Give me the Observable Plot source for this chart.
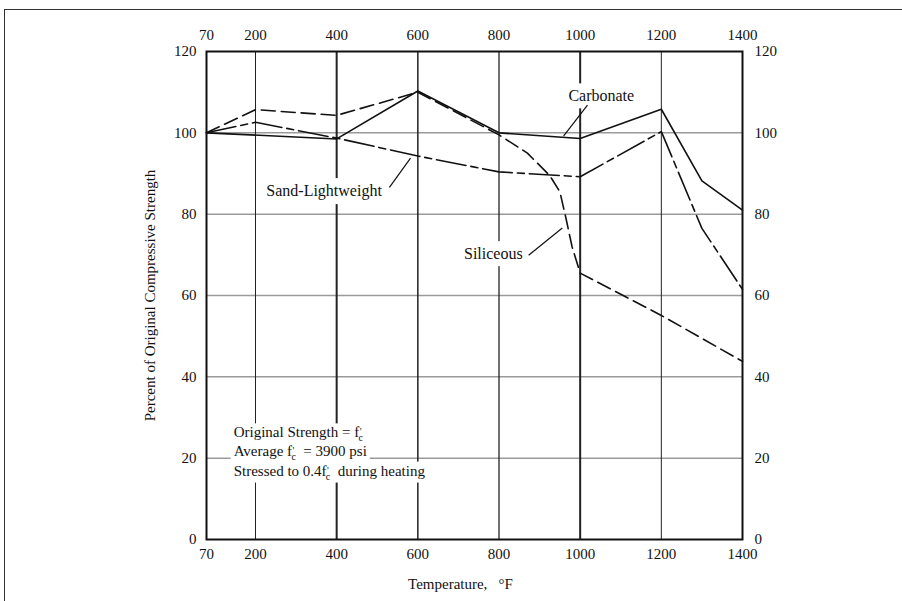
<!DOCTYPE html>
<html><head><meta charset="utf-8">
<script src="https://cdn.jsdelivr.net/npm/d3@7"></script>
<script src="https://cdn.jsdelivr.net/npm/@observablehq/plot@0.6"></script>
<style>
body{margin:0;background:#fff;}
#wrap{position:relative;width:902px;height:601px;overflow:hidden;background:#fff;}
#border{position:absolute;left:4px;top:9px;width:1000px;height:700px;border-left:1.5px solid #333;border-top:1.5px solid #333;}
#chart{position:absolute;left:0;top:0;}
</style></head><body>
<div id="wrap"><div id="border"></div><div id="chart"></div></div>
<script>
// ---- data ----
const tempTicks = [70, 200, 400, 600, 800, 1000, 1200, 1400];
const pctTicks = [0, 20, 40, 60, 80, 100, 120];
const gridTemps = [200, 400, 600, 800, 1000, 1200];
const gridPcts = [20, 40, 60, 80, 100];

const carbonateT = [70, 400, 600, 800, 1000, 1200, 1300, 1400];
const carbonateV = [100, 98.5, 110.3, 100, 98.6, 105.8, 88.2, 81];

const siliceousT = [70, 200, 400, 600, 800, 870, 925, 950, 965, 980, 1000, 1200, 1400];
const siliceousV = [100, 105.7, 104.3, 110, 99.5, 95, 89.5, 85.5, 79, 72, 65.5, 55.1, 43.8];

const sandT = [70, 200, 400, 600, 800, 1000, 1200, 1300, 1400];
const sandV = [100, 102.6, 98.7, 94.3, 90.4, 89.2, 100.3, 76.5, 61.5];

const labelNames = ["Carbonate", "Sand-Lightweight", "Siliceous"];
const labelT = [1052, 369, 786];
const labelV = [109.0, 85.7, 70.2];
const leaderT1 = [1018, 530, 873];
const leaderV1 = [106.8, 86.6, 69.9];
const leaderT2 = [959, 582, 956];
const leaderV2 = [99.2, 93.8, 76.6];

const noteLines = ["Original Strength = f'c", "Average f'c  = 3900 psi", "Stressed to 0.4f'c  during heating"];
const noteT = [142, 142, 142];
const noteV = [26.3, 21.6, 16.9];

const yTitle = "Percent of Original Compressive Strength";
const xTitle = "Temperature,\u00a0\u00a0 \u00b0F";

// ---- styles ----
const gridWidth = {200: 1, 400: 2, 600: 1.5, 800: 1.3, 1000: 2, 1200: 1};
const font = "'Liberation Serif', 'Times New Roman', serif";

const toRows = (T, V) => T.map((t, i) => ({t, v: V[i]}));
const carbonate = toRows(carbonateT, carbonateV);
const siliceous = toRows(siliceousT, siliceousV);
const sand = toRows(sandT, sandV);
const labels = labelNames.map((name, i) => ({name, t: labelT[i], v: labelV[i]}));
const leaders = labelNames.map((name, i) => ({t1: leaderT1[i], v1: leaderV1[i], t2: leaderT2[i], v2: leaderV2[i]}));
const notes = noteLines.map((s, i) => ({s, t: noteT[i], v: noteV[i]}));

const chart = Plot.plot({
  width: 902,
  height: 601,
  marginLeft: 206,
  marginRight: 160,
  marginTop: 51,
  marginBottom: 62,
  style: {fontFamily: font, fontSize: "15px", color: "#111", background: "transparent"},
  x: {type: "linear", domain: [70, 200, 1400], range: [206, 255, 742]},
  y: {domain: [0, 120]},
  marks: [
    Plot.ruleY(gridPcts, {y: d => d, stroke: "#9a9a9a", strokeWidth: 1.5}),
    Plot.ruleX(gridTemps, {x: d => d, stroke: "#222", strokeWidth: d => gridWidth[d]}),
    Plot.text(labels, {x: "t", y: "v", text: "name", fontSize: 16, fill: "#111"}),
    Plot.text(notes, {x: "t", y: "v", text: "s", textAnchor: "start", fontSize: 15, fill: "#111"}),
    Plot.link(leaders, {x1: "t1", y1: "v1", x2: "t2", y2: "v2", stroke: "#111", strokeWidth: 1.2}),
    Plot.line(carbonate, {x: "t", y: "v", stroke: "#111", strokeWidth: 1.6}),
    Plot.line(siliceous, {x: "t", y: "v", stroke: "#111", strokeWidth: 1.6, strokeDasharray: "14,6"}),
    Plot.line(sand, {x: "t", y: "v", stroke: "#111", strokeWidth: 1.6, strokeDasharray: "30,5,7,5"}),
    Plot.frame({stroke: "#111", strokeWidth: 2}),
    Plot.axisX(tempTicks, {anchor: "top", tickSize: 0, tickPadding: 12, label: null, tickFormat: d => String(d)}),
    Plot.axisX(tempTicks, {anchor: "bottom", tickSize: 0, tickPadding: 9, label: null, tickFormat: d => String(d)}),
    Plot.axisY(pctTicks, {anchor: "left", tickSize: 0, tickPadding: 10, label: null}),
    Plot.axisY(pctTicks, {anchor: "right", tickSize: 0, tickPadding: 12, label: null}),
    Plot.text([yTitle], {text: d => d, frameAnchor: "left", textAnchor: "middle", rotate: -90, dx: -56, lineAnchor: "middle", fontSize: 15}),
    Plot.text([xTitle], {text: d => d, frameAnchor: "bottom", dy: 45, dx: -14, lineAnchor: "middle", fontSize: 15})
  ]
});
document.getElementById("chart").appendChild(chart);

const NS = "http://www.w3.org/2000/svg";
const annot = [...chart.querySelectorAll("text")].filter(t => labelNames.includes(t.textContent) || noteLines.includes(t.textContent));

// render f'c as f with prime and subscript c
annot.forEach(t => {
  const s = t.textContent;
  if (!s.includes("f'c")) return;
  const parts = s.split("f'c");
  while (t.firstChild) t.removeChild(t.firstChild);
  const add = (txt, attrs) => {
    const ts = document.createElementNS(NS, "tspan");
    ts.textContent = txt;
    for (const k in attrs) ts.setAttribute(k, attrs[k]);
    t.appendChild(ts);
  };
  parts.forEach((p, i) => {
    if (i === 0) { add(p + "f", {}); return; }
    add("'", {"font-size": 10, dy: -2, dx: 0.5});
    add("c", {"font-size": 10, dx: -3, dy: 6});
    add(p.replace(/ /g, "\u00a0"), {dy: -4});
  });
});

// white boxes behind the annotations, cutting the grid lines as in the original
annot.forEach(t => {
  const b = t.getBBox();
  const big = labelNames.includes(t.textContent);
  const px = 3, py = big ? 4 : 1;
  const r = document.createElementNS(NS, "rect");
  r.setAttribute("x", b.x - px);
  r.setAttribute("y", b.y - py);
  r.setAttribute("width", b.width + 2 * px);
  r.setAttribute("height", b.height + 2 * py);
  r.setAttribute("fill", "white");
  r.setAttribute("stroke", "none");
  if (t.getAttribute("transform")) r.setAttribute("transform", t.getAttribute("transform"));
  t.parentNode.insertBefore(r, t);
});
</script>
</body></html>
